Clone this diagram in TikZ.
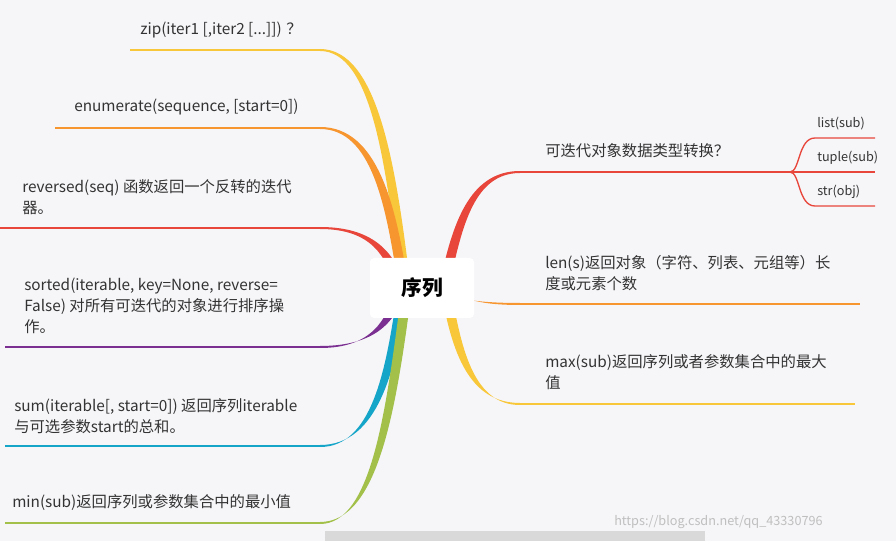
\documentclass[tikz,border=0pt]{standalone}
\usepackage{fontspec}
\setmainfont{Noto Sans CJK SC}
\definecolor{bg}{HTML}{F6F6F9}
\definecolor{cy}{HTML}{F9C73A}
\definecolor{co}{HTML}{F7952F}
\definecolor{cr}{HTML}{E8463A}
\definecolor{cp}{HTML}{7B2F91}
\definecolor{cc}{HTML}{14A5C8}
\definecolor{cg}{HTML}{A3C14A}
\definecolor{tx}{HTML}{333333}
\tikzset{x=0.75pt,y=-0.75pt,
 lbl/.style={anchor=west,align=left,font=\fontsize{11.5}{16}\selectfont,text=tx,inner sep=0pt},
 sml/.style={anchor=west,font=\fontsize{9.5}{11}\selectfont,text=tx,inner sep=0pt}}
\newcommand\lb[5]{%
 \fill[#1] (320,#3-1) .. controls (378,#3-1) and (396,{(#3+#5)/2}) .. (#4+5,#5) -- (#4-5,#5) .. controls (386,{(#3+#5)/2}) and (372,#3+1) .. (320,#3+1) -- cycle;
 \draw[#1,line width=1.3pt] (#2,#3) -- (320,#3);}
\newcommand\rb[5]{%
 \fill[#1] (520,#3-1) .. controls (468,#3-1) and (452,{(#3+#5)/2}) .. (#4-5,#5) -- (#4+5,#5) .. controls (462,{(#3+#5)/2}) and (474,#3+1) .. (520,#3+1) -- cycle;
 \draw[#1,line width=1.3pt] (520,#3) -- (#2,#3);}
\begin{document}
\begin{tikzpicture}
\fill[bg] (0,0) rectangle (896,541);
\useasboundingbox (0,0) rectangle (896,541);
\fill[gray!30] (325,531) rectangle (705,541);
\lb{cy}{130}{50}{405}{282}
\lb{co}{55}{128}{403}{284}
\lb{cr}{0}{228}{400}{286}
\lb{cp}{5}{347}{400}{292}
\lb{cc}{5}{446}{402}{294}
\lb{cg}{5}{523}{406}{296}
\rb{cr}{790}{172}{445}{282}
\rb{co}{860}{304}{444}{290}
\rb{cy}{855}{404}{447}{296}
\draw[cr,line width=1pt] (790,172) .. controls (800,172) and (798,138) .. (815,138) -- (875,138);
\draw[cr,line width=1pt] (790,172) -- (875,172);
\draw[cr,line width=1pt] (790,172) .. controls (800,172) and (798,206) .. (815,206) -- (875,206);
\node[fill=white,rounded corners=3pt,minimum width=78pt,minimum height=45pt,font=\bfseries\fontsize{15.5}{18}\selectfont] (c) at (422,288) {序列};
\node[lbl] (z) at (140,30) {zip(iter1 [,iter2 [...]]) ？};
\node[lbl] (e) at (74,107) {enumerate(sequence, [start=0])};
\node[lbl] (r) at (22,197) {reversed(seq) 函数返回一个反转的迭代\\器。};
\node[lbl] (s) at (24,306) {sorted(iterable, key=None, reverse=\\False) 对所有可迭代的对象进行排序操\\作。};
\node[lbl] (u) at (14,416) {sum(iterable[, start=0]) 返回序列iterable\\与可选参数start的总和。};
\node[lbl] (m) at (12,503) {min(sub)返回序列或参数集合中的最小值};
\node[lbl] (k) at (545,151) {可迭代对象数据类型转换？};
\node[sml] (l1) at (817,124) {list(sub)};
\node[sml] (l2) at (817,158) {tuple(sub)};
\node[sml] (l3) at (817,192) {str(obj)};
\node[lbl] (n) at (545,273) {len(s)返回对象（字符、列表、元组等）长\\度或元素个数};
\node[lbl] (x) at (545,372) {max(sub)返回序列或者参数集合中的最大\\值};
\node[anchor=west,text=gray!50,font=\fontsize{9.5}{11}\selectfont,inner sep=0pt] (w) at (614,522) {https://blog.csdn.net/qq\_43330796};
\end{tikzpicture}
\end{document}
